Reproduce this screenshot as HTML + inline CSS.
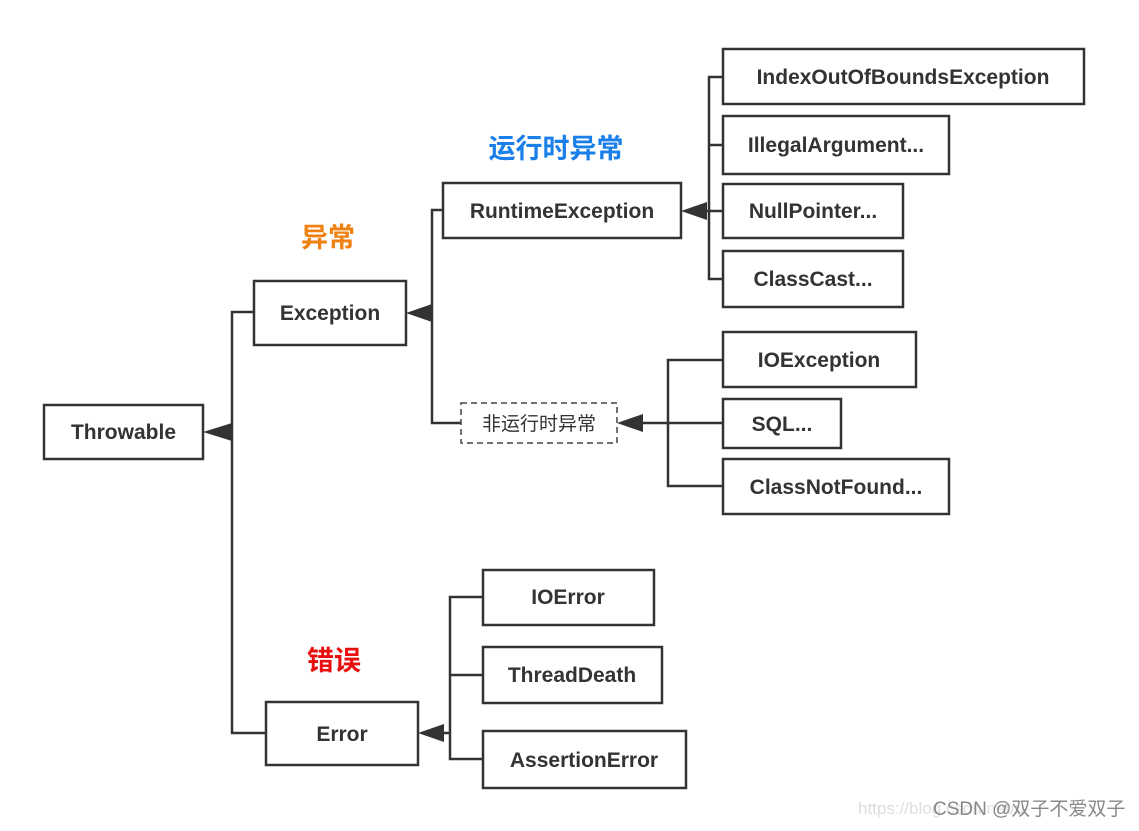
<!DOCTYPE html>
<html><head><meta charset="utf-8"><style>
body{margin:0;background:#fff;}
svg text{font-family:"Liberation Sans","Noto Sans CJK SC",sans-serif;}
</style></head><body>
<svg width="1139" height="826" viewBox="0 0 1139 826" xmlns="http://www.w3.org/2000/svg">
<defs><marker id="a" markerWidth="10" markerHeight="10" refX="0" refY="5" orient="auto" markerUnits="userSpaceOnUse"></marker></defs>
<g stroke="#333" stroke-width="2.5" fill="none">
<path d="M255 312H232V733H266M232 432H220"/>
<path d="M443 210H432V423H461M432 313H422"/>
<path d="M723 77H709V279H723M709 145H723M709 211H723M709 211H697"/>
<path d="M723 360H668V486H723M668 423H723M668 423H633"/>
<path d="M483 597H450V759H483M450 675H483M450 733H434"/>
</g>
<g fill="#333">
<polygon points="203,432 232,423 232,441"/>
<polygon points="406,313 432,304 432,322"/>
<polygon points="681,211 707,202 707,220"/>
<polygon points="617,423 643,414 643,432"/>
<polygon points="418,733 444,724 444,742"/>
</g>
<g fill="#fff" stroke="#333" stroke-width="2.5">
<rect x="44" y="405" width="159" height="54"/>
<rect x="254" y="281" width="152" height="64"/>
<rect x="266" y="702" width="152" height="63"/>
<rect x="443" y="183" width="238" height="55"/>
<rect x="723" y="49" width="361" height="55"/>
<rect x="723" y="116" width="226" height="58"/>
<rect x="723" y="184" width="180" height="54"/>
<rect x="723" y="251" width="180" height="56"/>
<rect x="723" y="332" width="193" height="55"/>
<rect x="723" y="399" width="118" height="49"/>
<rect x="723" y="459" width="226" height="55"/>
<rect x="483" y="570" width="171" height="55"/>
<rect x="483" y="647" width="179" height="56"/>
<rect x="483" y="731" width="203" height="57"/>
</g>
<rect x="461" y="403" width="156" height="40" fill="#fff" stroke="#444" stroke-width="1.5" stroke-dasharray="6,4"/>
<g font-size="21" font-weight="bold" fill="#333" text-anchor="middle">
<text x="123.5" y="439">Throwable</text>
<text x="330" y="320">Exception</text>
<text x="342" y="741">Error</text>
<text x="562" y="218">RuntimeException</text>
<text x="903" y="84">IndexOutOfBoundsException</text>
<text x="836" y="152">IllegalArgument...</text>
<text x="813" y="218">NullPointer...</text>
<text x="813" y="286">ClassCast...</text>
<text x="819" y="367">IOException</text>
<text x="782" y="431">SQL...</text>
<text x="836" y="494">ClassNotFound...</text>
<text x="568" y="604">IOError</text>
<text x="572" y="682">ThreadDeath</text>
<text x="584" y="767">AssertionError</text>
</g>
<text x="539" y="430" font-size="19" fill="#333" text-anchor="middle">非运行时异常</text>
<text x="556" y="158" font-size="27" font-weight="bold" fill="#1a7fe8" text-anchor="middle">运行时异常</text>
<text x="328" y="247" font-size="27" font-weight="bold" fill="#f08010" text-anchor="middle">异常</text>
<text x="334" y="670" font-size="27" font-weight="bold" fill="#e8100e" text-anchor="middle">错误</text>
<text x="858" y="814" font-size="17" fill="#ddd">https://blog.csdn.net/u</text>
<text x="933" y="815" font-size="19" fill="#888">CSDN @双子不爱双子</text>
</svg>
</body></html>
